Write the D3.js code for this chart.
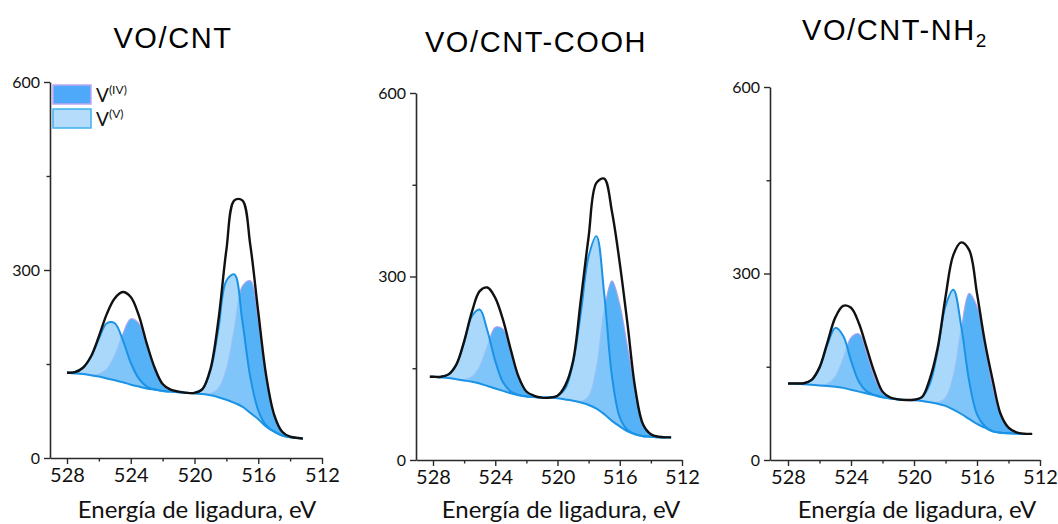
<!DOCTYPE html>
<html><head><meta charset="utf-8">
<script src="https://cdn.jsdelivr.net/npm/d3@7"></script>
<style>
body{margin:0;background:#fff;}
svg{display:block;}
</style></head><body>
<svg id="c" width="1058" height="524"></svg>
<script>
// ---------- data ----------
const titles = ["VO/CNT", "VO/CNT-COOH", "VO/CNT-NH"];
const titleSubs = ["", "", "2"];
const xTickValues = [528, 524, 520, 516, 512];
const xMinorValues = [526, 522, 518, 514];
const yTickValues = [0, 300, 600];
const yMinorValues = [150, 450];
const axisTitle = "Energía de ligadura, eV";
const legendLabels = ["(IV)", "(V)"];

// Panel 1: VO/CNT
const energy1 = [528,527.5,527,526.5,526,525.5,525,524.5,524,523.5,523,522.5,522,521.5,521,520.5,520,519.5,519,518.5,518,517.5,517,516.5,516,515.5,515,514.5,514,513.5,513.2];
const bg1   = [136,135,134,132,130,127,124,121,117,114,111,109,107,106,105,104,103,102,100,97,93,88,82,72,62,50,42,36,33,32,31];
const vV1   = [0.4,2.4,10,29,60,88,91,67,35,13,3,0.6,0,0,0,0,1,8,39,109,190,205,137,57,14,2,0,0,0,0,0];
const vIV1  = [0,0,0,0.7,4,15,40,77,105,101,69,34,11,3,0.5,0,0,0.4,3,14,49,118,192,211,157,79,27,6,1,0,0];
const env1  = [136,137,144,162,194,230,255,265,257,228,183,144,118,109,106,104,104,110,142,220,332,411,411,340,233,131,69,42,34,32,31];

// Panel 2: VO/CNT-COOH
const energy2 = [528.2,528,527.5,527,526.5,526,525.5,525,524.5,524,523.5,523,522.5,522,521.5,521,520.5,520,519.5,519,518.5,518,517.5,517,516.5,516,515.5,515,514.5,514,513.5,513,512.7];
const bg2   = [136,136,135,134,132,130,128,125,121,117,113,109,106,104,103,102,102,101,99,97,94,90,84,75,64,55,47,42,39,38,37,37,37];
const vV2   = [0,0.1,1,6,24,62,107,121,90,45,14,3,0.4,0,0,0,0.5,4,18,62,147,243,282,197,73,15,2,0,0,0,0,0,0];
const vIV2  = [0,0,0,0,0.2,1.5,8,28,66,100,101,67,29,8,2,0.2,0,0,0,0,2,14,67,170,229,200,138,72,20,5,0.5,0,0];
const env2  = [136,136,136,140,156,194,242,276,282,265,229,180,136,112,105,102,102,105,122,162,262,365,453,460,406,322,222,116,58,42,38,37,37];

// Panel 3: VO/CNT-NH2
const energy3 = [528,527.5,527,526.5,526,525.5,525,524.5,524,523.5,523,522.5,522,521.5,521,520.5,520,519.5,519,518.5,518,517.5,517,516.5,516,515.5,515,514.5,514,513.5,513,512.5];
const bg3   = [123,123,122,121,120,119,118,116,113,110,107,104,101,99,97.5,96.5,96,95,93,90.5,87,81,74,66,58,52,46,44,43,42.5,42,42];
const vV3   = [0,0.1,1.3,7.6,28,66,94.5,84,47,16,3.4,0.5,0,0,0,0,0.8,6,29,85,161,193,141,61,15.5,2.3,0.2,0,0,0,0,0];
const vIV3  = [0,0,0,0,0.5,3.5,16,47,84,93,64,27.5,7.3,1.2,0.1,0,0,0,0,1.8,13,55,137,202,189,133,71,29,9,2,0.3,0];
const env3  = [123,123,123.5,129,149,189,229,248,245,220,180,140,110,100.5,97.6,96.5,97,101,130,180,262,330,350,338,268,190,128,74,52,44.5,42.3,42];

const panelData = [
  {energy: energy1, bg: bg1, vV: vV1, vIV: vIV1, env: env1},
  {energy: energy2, bg: bg2, vV: vV2, vIV: vIV2, env: env2},
  {energy: energy3, bg: bg3, vV: vV3, vIV: vIV3, env: env3}
];

// ---------- layout ----------
const layouts = [
  {axisX: 50,  x528: 67,  x512: 322,  y0: 458, y600: 82, titleX: 173, titleY: 48, axTitleX: 197},
  {axisX: 416, x528: 433, x512: 682,  y0: 460, y600: 93, titleX: 536, titleY: 52, axTitleX: 561},
  {axisX: 770, x528: 788, x512: 1040, y0: 460, y600: 87, titleX: 895, titleY: 40, axTitleX: 917}
];

const C = {
  ivFill: "#55b2f7", ivEdge: "#b49cf0",
  vFill: "rgb(142,203,250)", vLine: "#1a93e6",
  bgLine: "#1a93e6", env: "#111111", axis: "#2a2a2a", text: "#111"
};

const svg = d3.select("#c");

panelData.forEach((d, i) => {
  const L = layouts[i];
  const s0 = d3.scaleLinear().domain([528, 512]).range([L.x528, L.x512]);
  const x = d3.scaleLinear().domain([s0.invert(L.axisX), 512]).range([L.axisX, L.x512]);
  const y = d3.scaleLinear().domain([0, 600]).range([L.y0, L.y600]);
  const g = svg.append("g");
  const idx = d3.range(d.energy.length);
  const curve = d3.curveCatmullRom.alpha(0.5);

  const areaIV = d3.area().curve(curve)
    .x(k => x(d.energy[k])).y0(k => y(d.bg[k])).y1(k => y(d.bg[k] + d.vIV[k]));
  const areaV = d3.area().curve(curve)
    .x(k => x(d.energy[k])).y0(k => y(d.bg[k])).y1(k => y(d.bg[k] + d.vV[k]));
  const lineV = d3.line().curve(curve).x(k => x(d.energy[k])).y(k => y(d.bg[k] + d.vV[k]));
  const lineIV = d3.line().curve(curve).x(k => x(d.energy[k])).y(k => y(d.bg[k] + d.vIV[k]));
  const lineBg = d3.line().curve(curve).x(k => x(d.energy[k])).y(k => y(d.bg[k]));
  const lineEnv = d3.line().curve(curve).x(k => x(d.energy[k])).y(k => y(d.env[k]));

  g.append("path").attr("d", areaIV(idx)).attr("fill", C.ivFill);
  g.append("path").attr("d", lineIV(idx)).attr("fill", "none").attr("stroke", C.ivEdge).attr("stroke-width", 1.2).attr("opacity", 0.85);
  g.append("path").attr("d", areaV(idx)).attr("fill", C.vFill).attr("fill-opacity", 0.75);
  g.append("path").attr("d", lineV(idx)).attr("fill", "none").attr("stroke", C.vLine).attr("stroke-width", 2);
  g.append("path").attr("d", lineBg(idx)).attr("fill", "none").attr("stroke", C.bgLine).attr("stroke-width", 2);
  g.append("path").attr("d", lineEnv(idx)).attr("fill", "none").attr("stroke", C.env).attr("stroke-width", 2.4).attr("stroke-linejoin", "round");

  // axes
  const xAxis = d3.axisBottom(x).tickValues(xTickValues).tickSize(6).tickSizeOuter(0).tickFormat(d3.format("d"));
  const xMinor = d3.axisBottom(x).tickValues(xMinorValues).tickSize(3.5).tickSizeOuter(0).tickFormat("");
  const yAxis = d3.axisLeft(y).tickValues(yTickValues).tickSize(6).tickSizeOuter(0).tickFormat(d3.format("d"));
  const yMinor = d3.axisLeft(y).tickValues(yMinorValues).tickSize(3.5).tickSizeOuter(0).tickFormat("");

  const gx = g.append("g").attr("transform", `translate(0,${L.y0})`).call(xAxis);
  g.append("g").attr("transform", `translate(0,${L.y0})`).call(xMinor).select(".domain").remove();
  const gy = g.append("g").attr("transform", `translate(${L.axisX},0)`).call(yAxis);
  g.append("g").attr("transform", `translate(${L.axisX},0)`).call(yMinor).select(".domain").remove();

  g.selectAll(".domain").attr("stroke", C.axis).attr("stroke-width", 1.6);
  g.selectAll(".tick line").attr("stroke", C.axis).attr("stroke-width", 1.4);
  gx.selectAll(".tick text").attr("font-family", "Lato, sans-serif").attr("font-size", 20)
    .attr("fill", C.text).attr("y", 10);
  gy.selectAll(".tick text").attr("font-family", "Lato, sans-serif").attr("font-size", 16)
    .attr("fill", C.text).attr("x", -10);

  // axis title
  g.append("text").attr("x", L.axTitleX).attr("y", 518).attr("text-anchor", "middle")
    .attr("font-family", "Lato, sans-serif").attr("font-size", 24).attr("fill", C.text)
    .text(axisTitle);

  // panel title
  const t = g.append("text").attr("x", L.titleX).attr("y", L.titleY).attr("text-anchor", "middle")
    .attr("font-family", "'Liberation Sans', Arial, sans-serif").attr("font-size", 29)
    .attr("letter-spacing", 1.6).attr("fill", "#000");
  t.append("tspan").text(titles[i]);
  if (titleSubs[i]) t.append("tspan").attr("font-size", 19).attr("dy", 7).text(titleSubs[i]);
});

// legend (first panel)
const lg = svg.append("g");
const legendItems = [
  {fill: "#4ea9fa", stroke: "#c0a6f2", top: 85},
  {fill: "#b5ddfb", stroke: "#3fb0f0", top: 109}
];
legendItems.forEach((it, k) => {
  lg.append("rect").attr("x", 53).attr("y", it.top).attr("width", 38).attr("height", 19)
    .attr("fill", it.fill).attr("stroke", it.stroke).attr("stroke-width", 1.5);
  const tx = lg.append("text").attr("x", 96).attr("y", it.top + 17)
    .attr("font-family", "Lato, sans-serif").attr("font-size", 19).attr("fill", C.text);
  tx.append("tspan").text("V");
  tx.append("tspan").attr("font-size", 12).attr("dy", -8).text(legendLabels[k]);
});
</script>
</body></html>
